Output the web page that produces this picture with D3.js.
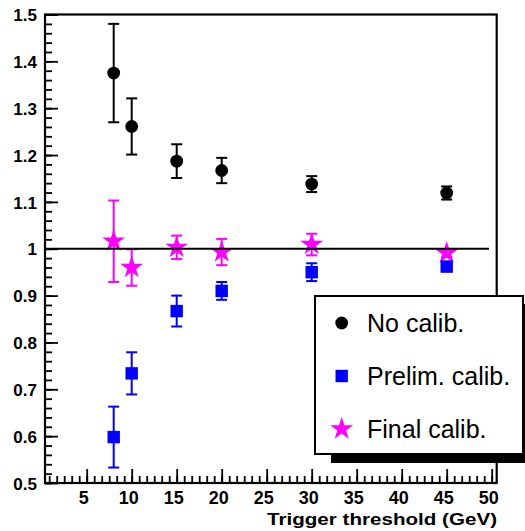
<!DOCTYPE html>
<html>
<head>
<meta charset="utf-8">
<script src="https://cdn.jsdelivr.net/npm/d3@7/dist/d3.min.js"></script>
<style>
  html, body { margin: 0; padding: 0; background: #fff; }
  svg { display: block; }
</style>
</head>
<body>
<svg id="chart" width="525" height="531"></svg>
<script>
// ---- data ----
const thresholds = [8, 10, 15, 20, 30, 45];
const noCalib = [1.375, 1.261, 1.187, 1.167, 1.138, 1.119];
const noCalibErr = [0.105, 0.060, 0.036, 0.027, 0.017, 0.014];
const prelimCalib = [0.598, 0.734, 0.867, 0.910, 0.950, 0.962];
const prelimCalibErr = [0.065, 0.045, 0.033, 0.019, 0.019, 0.010];
const finalCalib = [1.016, 0.960, 1.003, 0.993, 1.009, 0.991];
const finalCalibErr = [0.087, 0.039, 0.025, 0.028, 0.023, 0.008];
const xTickValues = [5, 10, 15, 20, 25, 30, 35, 40, 45, 50];
const yTickValues = [0.5, 0.6, 0.7, 0.8, 0.9, 1.0, 1.1, 1.2, 1.3, 1.4, 1.5];
const yTickLabels = ["0.5", "0.6", "0.7", "0.8", "0.9", "1", "1.1", "1.2", "1.3", "1.4", "1.5"];
const referenceLine = [0.37, 49.7];
const referenceValue = 1.0;
const legendLabels = ["No calib.", "Prelim. calib.", "Final calib."];
const xTitle = "Trigger threshold (GeV)";

(function () {
// ---- layout ----
const svg = d3.select("#chart");
const pLeft = 45, pRight = 496.7, pTop = 14.5, pBottom = 483;
const x = d3.scaleLinear().domain([0.367, 50.556]).range([pLeft, pRight]);
const y = d3.scaleLinear().domain([0.5, 1.5]).range([pBottom, pTop]);
const boldFont = "'Liberation Sans', Arial, Helvetica, sans-serif";

// minor ticks
const xMinor = [];
for (let i = 0; i <= 61; i++) { const v = i * 5 / 6; if (v >= 0.367 && v <= 50.556) xMinor.push(v); }
const yMinor = [];
for (let i = 0; i <= 50; i++) yMinor.push(0.5 + i * 0.02);

// x axis
const gx = svg.append("g").attr("transform", `translate(0,${pBottom})`);
gx.call(d3.axisBottom(x).tickValues(xMinor).tickSize(-7).tickSizeOuter(0).tickFormat(""));
gx.select(".domain").remove();
const gx2 = svg.append("g").attr("transform", `translate(0,${pBottom})`);
gx2.call(d3.axisBottom(x).tickValues(xTickValues).tickSize(-14).tickSizeOuter(0).tickFormat(d3.format("d")));
gx2.select(".domain").remove();
gx2.selectAll("text")
  .attr("y", 21).attr("dy", null).attr("dx", -3.5)
  .attr("fill", "#000")
  .style("font-family", boldFont).style("font-weight", "bold").style("font-size", "18px");
[gx, gx2].forEach(g => g.selectAll("line").attr("stroke", "#000").attr("stroke-width", 1.8));

// y axis
const gy = svg.append("g").attr("transform", `translate(${pLeft},0)`);
gy.call(d3.axisLeft(y).tickValues(yMinor).tickSize(-7).tickSizeOuter(0).tickFormat(""));
gy.select(".domain").remove();
const gy2 = svg.append("g").attr("transform", `translate(${pLeft},0)`);
gy2.call(d3.axisLeft(y).tickValues(yTickValues).tickSize(-13).tickSizeOuter(0)
  .tickFormat((d, i) => yTickLabels[i]));
gy2.select(".domain").remove();
gy2.selectAll("text")
  .attr("x", -8).attr("dy", "0.36em")
  .attr("fill", "#000")
  .style("font-family", boldFont).style("font-weight", "bold").style("font-size", "17px");
[gy, gy2].forEach(g => g.selectAll("line").attr("stroke", "#000").attr("stroke-width", 1.8));

// frame
svg.append("rect")
  .attr("x", pLeft).attr("y", pTop)
  .attr("width", pRight - pLeft).attr("height", pBottom - pTop)
  .attr("fill", "none").attr("stroke", "#000").attr("stroke-width", 2.2);

// x title
svg.append("text")
  .attr("x", 267).attr("y", 525)
  .attr("textLength", 230).attr("lengthAdjust", "spacingAndGlyphs")
  .style("font-family", boldFont).style("font-weight", "bold").style("font-size", "17px")
  .attr("fill", "#000")
  .text(xTitle);

// ---- series ----
const series = [
  { name: legendLabels[0], vals: noCalib, errs: noCalibErr, color: "#000000", shape: "circle" },
  { name: legendLabels[2], vals: finalCalib, errs: finalCalibErr, color: "#ff00ff", shape: "star" },
  { name: legendLabels[1], vals: prelimCalib, errs: prelimCalibErr, color: "#0000ff", shape: "square" }
];

const starSymbol = d3.symbol().type(d3.symbolStar).size(12 * 12 / 0.8908130915292852);
function drawMarker(g, shape, color) {
  if (shape === "circle") {
    g.append("circle").attr("r", 6.4).attr("fill", color);
  } else if (shape === "square") {
    g.append("rect").attr("x", -6.2).attr("y", -6.2).attr("width", 12.4).attr("height", 12.4).attr("fill", color);
  } else {
    g.append("path").attr("d", starSymbol()).attr("fill", color);
  }
}

series.forEach(s => {
  const g = svg.append("g");
  thresholds.forEach((t, i) => {
    const cx = x(t), v = s.vals[i], e = s.errs[i];
    const y1 = y(v + e), y2 = y(v - e);
    g.append("line").attr("x1", cx).attr("x2", cx).attr("y1", y1).attr("y2", y2)
      .attr("stroke", s.color).attr("stroke-width", 2);
    [y1, y2].forEach(yy => g.append("line").attr("x1", cx - 5.5).attr("x2", cx + 5.5)
      .attr("y1", yy).attr("y2", yy).attr("stroke", s.color).attr("stroke-width", 2));
    const m = g.append("g").attr("transform", `translate(${cx},${y(v)})`);
    drawMarker(m, s.shape, s.color);
  });
});

// reference line at 1
svg.append("line")
  .attr("x1", x(referenceLine[0])).attr("x2", x(referenceLine[1]))
  .attr("y1", y(referenceValue)).attr("y2", y(referenceValue))
  .attr("stroke", "#000").attr("stroke-width", 2.2);

// ---- legend ----
const lg = svg.append("g");
lg.append("rect").attr("x", 331).attr("y", 304).attr("width", 208).attr("height", 159).attr("fill", "#000");
lg.append("rect").attr("x", 315).attr("y", 296).attr("width", 208).attr("height", 158)
  .attr("fill", "#fff").attr("stroke", "#000").attr("stroke-width", 2);
const legendItems = [
  { label: legendLabels[0], shape: "circle", color: "#000000" },
  { label: legendLabels[1], shape: "square", color: "#0000ff" },
  { label: legendLabels[2], shape: "star", color: "#ff00ff" }
];
const legendY = d3.scalePoint().domain(legendLabels).range([323, 429]);
legendItems.forEach(it => {
  const cy = legendY(it.label);
  const m = lg.append("g").attr("transform", `translate(341.7,${cy})`);
  drawMarker(m, it.shape, it.color);
  lg.append("text").attr("x", 367).attr("y", cy + 9)
    .style("font-family", "'Liberation Sans', Arial, Helvetica, sans-serif")
    .style("font-size", "25px").attr("fill", "#000")
    .text(it.label);
});
})();
</script>
</body>
</html>
